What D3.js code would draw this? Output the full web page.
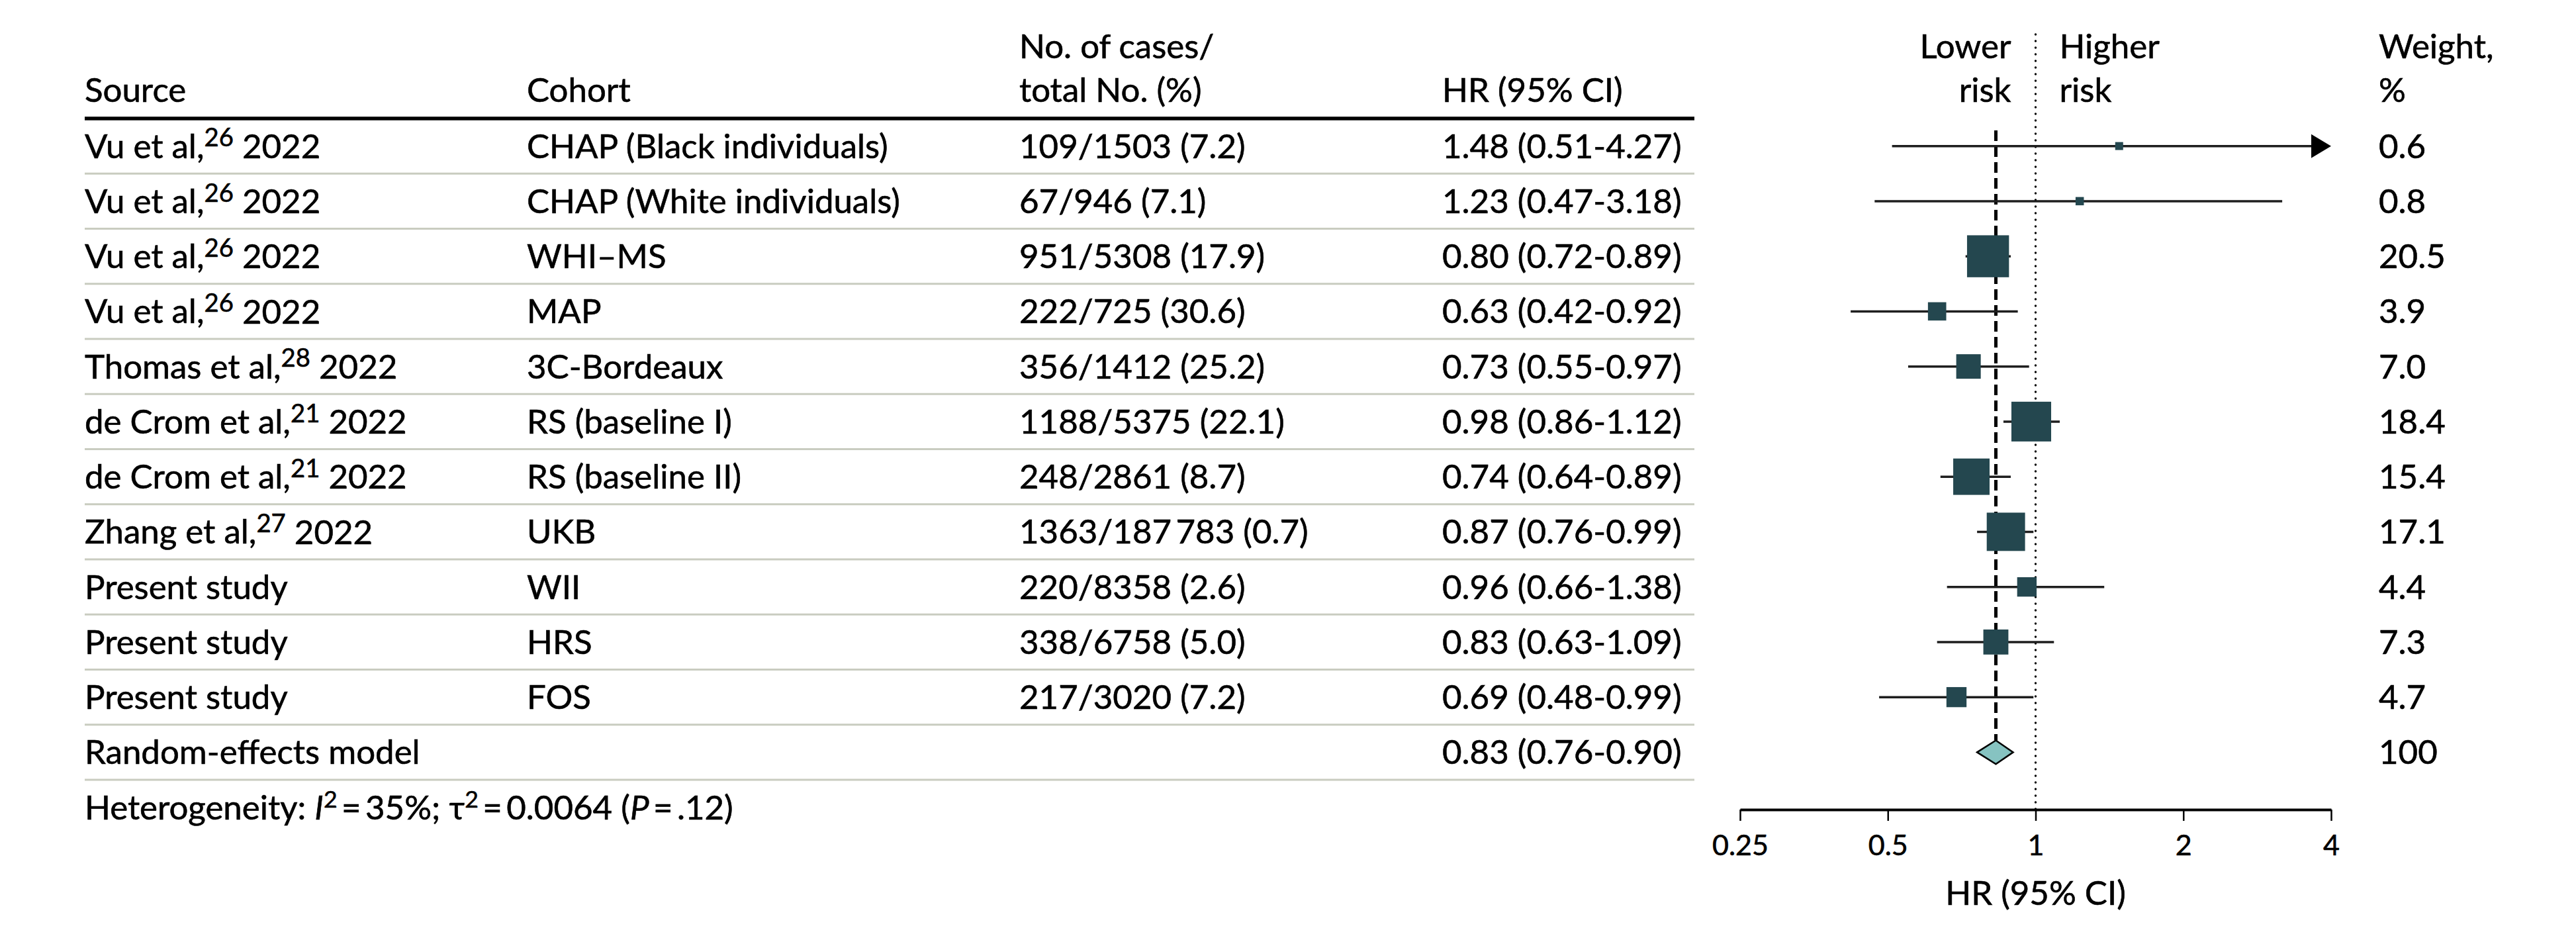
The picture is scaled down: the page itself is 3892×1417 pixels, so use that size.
<!DOCTYPE html>
<html>
<head>
  <script type="text/javascript" src="https://d3js.org/d3.v7.min.js"></script>
</head>
<body>
<style type="text/css">
  html,
  body {
    margin: 0px;
    overflow: hidden;
    background: #ffffff;
  }

  text {
    font-family: Lato, "Open Sans", sans-serif;
    fill: #000000;
    stroke: #000000;
    stroke-width: 0.6px;
  }
</style>

<script>
"use strict";

// Study rows
const AUTHORS = ["Vu et al,", "Vu et al,", "Vu et al,", "Vu et al,", "Thomas et al,", "de Crom et al,", "de Crom et al,", "Zhang et al,", "Present study", "Present study", "Present study"];
const REFS = ["26", "26", "26", "26", "28", "21", "21", "27", "", "", ""];
const YEARS = ["2022", "2022", "2022", "2022", "2022", "2022", "2022", "2022", "", "", ""];
const COHORTS = ["CHAP (Black individuals)", "CHAP (White individuals)", "WHI\u2013MS", "MAP", "3C-Bordeaux", "RS (baseline I)", "RS (baseline II)", "UKB", "WII", "HRS", "FOS"];
const CASES = ["109/1503 (7.2)", "67/946 (7.1)", "951/5308 (17.9)", "222/725 (30.6)", "356/1412 (25.2)", "1188/5375 (22.1)", "248/2861 (8.7)", "1363/187\u2009783 (0.7)", "220/8358 (2.6)", "338/6758 (5.0)", "217/3020 (7.2)"];
const HR = [1.48, 1.23, 0.80, 0.63, 0.73, 0.98, 0.74, 0.87, 0.96, 0.83, 0.69];
const LOWER = [0.51, 0.47, 0.72, 0.42, 0.55, 0.86, 0.64, 0.76, 0.66, 0.63, 0.48];
const UPPER = [4.27, 3.18, 0.89, 0.92, 0.97, 1.12, 0.89, 0.99, 1.38, 1.09, 0.99];
const WEIGHTS = ["0.6", "0.8", "20.5", "3.9", "7.0", "18.4", "15.4", "17.1", "4.4", "7.3", "4.7"];

// Pooled estimate
const POOLED_LABEL = "Random-effects model";
const POOLED = [0.83, 0.76, 0.90];
const POOLED_WEIGHT = "100";

// Axis ticks
const X_TICKS = [0.25, 0.5, 1, 2, 4];

document.addEventListener("DOMContentLoaded", function() {
  /******************************************************* Declare variables *******************************************************/

  const WIDTH = 3892;
  const HEIGHT = 1417;
  const FONT_SIZE = 51;
  const TICK_FONT_SIZE = 43;

  const TABLE_LEFT = 128; // left edge of table rules
  const TABLE_RIGHT = 2560; // right edge of table rules
  const COL_X = [128, 796, 1540, 2179]; // source, cohort, cases, HR columns
  const WEIGHT_X = 3594;

  const HEADER_TOP = 179; // thick rule under the header
  const ROW_HEIGHT = 83.25;
  const HEADER_LINE1 = 88; // baselines of the two header lines
  const HEADER_LINE2 = 154;

  const AXIS_Y = 1223;
  const BOX_COLOR = "#24474f";
  const DIAMOND_COLOR = "#86c3c1";

  const N_ROWS = HR.length + 1;

  // Row scale: centre of each row
  const Y_SCALE = d3
    .scaleBand()
    .domain(d3.range(N_ROWS))
    .range([HEADER_TOP, HEADER_TOP + ROW_HEIGHT * N_ROWS]);

  const rowMid = function(i) {
    return Y_SCALE(i) + Y_SCALE.bandwidth() / 2;
  };

  // HR scale (log base 2)
  const X_SCALE = d3
    .scaleLog()
    .base(2)
    .domain([0.25, 4])
    .range([2629, 3522]);

  // Box size from weight (area proportional)
  const SIZE_SCALE = d3
    .scaleSqrt()
    .domain([0, 1])
    .range([0, 14]);

  const FMT = d3.format(".2f");

  const ROWS = HR.map(function(d, i) {
    return {
      author: AUTHORS[i],
      ref: REFS[i],
      year: YEARS[i],
      cohort: COHORTS[i],
      cases: CASES[i],
      hr: d,
      lo: LOWER[i],
      hi: UPPER[i],
      weight: WEIGHTS[i]
    };
  });

  /**************************************************** Create Static Elements ****************************************************/

  const SVG = d3
    .select("body")
    .append("svg")
    .attr("width", WIDTH)
    .attr("height", HEIGHT)
    .style("font-size", FONT_SIZE + "px");

  SVG.append("rect")
    .attr("width", WIDTH)
    .attr("height", HEIGHT)
    .attr("fill", "#ffffff");

  // Header text
  const HEADERS = [
    { x: COL_X[0], y: HEADER_LINE2, t: "Source", a: "start" },
    { x: COL_X[1], y: HEADER_LINE2, t: "Cohort", a: "start" },
    { x: COL_X[2], y: HEADER_LINE1, t: "No. of cases/", a: "start" },
    { x: COL_X[2], y: HEADER_LINE2, t: "total No. (%)", a: "start" },
    { x: COL_X[3], y: HEADER_LINE2, t: "HR (95% CI)", a: "start" },
    { x: X_SCALE(1) - 37, y: HEADER_LINE1, t: "Lower", a: "end" },
    { x: X_SCALE(1) - 37, y: HEADER_LINE2, t: "risk", a: "end" },
    { x: X_SCALE(1) + 36, y: HEADER_LINE1, t: "Higher", a: "start" },
    { x: X_SCALE(1) + 36, y: HEADER_LINE2, t: "risk", a: "start" },
    { x: WEIGHT_X, y: HEADER_LINE1, t: "Weight,", a: "start" },
    { x: WEIGHT_X, y: HEADER_LINE2, t: "%", a: "start" }
  ];

  SVG.selectAll(".header")
    .data(HEADERS)
    .enter()
    .append("text")
    .classed("header", true)
    .attr("x", function(d) { return d.x; })
    .attr("y", function(d) { return d.y; })
    .attr("text-anchor", function(d) { return d.a; })
    .text(function(d) { return d.t; });

  // Row rules
  SVG.selectAll(".row-rule")
    .data(d3.range(N_ROWS))
    .enter()
    .append("line")
    .classed("row-rule", true)
    .attr("x1", TABLE_LEFT)
    .attr("x2", TABLE_RIGHT)
    .attr("y1", function(d) { return Y_SCALE(d) + ROW_HEIGHT; })
    .attr("y2", function(d) { return Y_SCALE(d) + ROW_HEIGHT; })
    .attr("stroke", "#c9ccc0")
    .attr("stroke-width", 3);

  SVG.append("line")
    .attr("x1", TABLE_LEFT)
    .attr("x2", TABLE_RIGHT)
    .attr("y1", HEADER_TOP)
    .attr("y2", HEADER_TOP)
    .attr("stroke", "#000000")
    .attr("stroke-width", 5.5);

  /************************************************ Create Data Dependent Elements ************************************************/

  const G_ROWS = SVG.selectAll(".row")
    .data(ROWS)
    .enter()
    .append("g")
    .classed("row", true)
    .attr("transform", function(d, i) {
      return "translate(0," + (rowMid(i) + 18) + ")";
    });

  // Source with superscript reference
  const SRC = G_ROWS.append("text").attr("x", COL_X[0]);
  SRC.append("tspan").text(function(d) { return d.author; });
  SRC.filter(function(d) { return d.ref !== ""; })
    .append("tspan")
    .attr("font-size", "0.75em")
    .attr("dy", "-0.45em")
    .text(function(d) { return d.ref; });
  SRC.filter(function(d) { return d.ref !== ""; })
    .append("tspan")
    .attr("dy", "0.34em")
    .text(function(d) { return " " + d.year; });

  G_ROWS.append("text")
    .attr("x", COL_X[1])
    .text(function(d) { return d.cohort; });

  G_ROWS.append("text")
    .attr("x", COL_X[2])
    .text(function(d) { return d.cases; });

  G_ROWS.append("text")
    .attr("x", COL_X[3])
    .text(function(d) { return FMT(d.hr) + " (" + FMT(d.lo) + "-" + FMT(d.hi) + ")"; });

  G_ROWS.append("text")
    .attr("x", WEIGHT_X)
    .text(function(d) { return d.weight; });

  // Pooled row text
  const POOLED_Y = rowMid(N_ROWS - 1);
  SVG.append("text")
    .attr("x", COL_X[0])
    .attr("y", POOLED_Y + 18)
    .text(POOLED_LABEL);
  SVG.append("text")
    .attr("x", COL_X[3])
    .attr("y", POOLED_Y + 18)
    .text(FMT(POOLED[0]) + " (" + FMT(POOLED[1]) + "-" + FMT(POOLED[2]) + ")");
  SVG.append("text")
    .attr("x", WEIGHT_X)
    .attr("y", POOLED_Y + 18)
    .text(POOLED_WEIGHT);

  // Heterogeneity note
  const HET = SVG.append("text")
    .attr("x", COL_X[0])
    .attr("y", 1238);
  HET.append("tspan").text("Heterogeneity: ");
  HET.append("tspan").attr("font-style", "italic").text("I");
  HET.append("tspan").attr("font-size", "0.7em").attr("dy", "-0.5em").text("2");
  HET.append("tspan").attr("dy", "0.35em").text("\u2009=\u200935%; \u03c4");
  HET.append("tspan").attr("font-size", "0.7em").attr("dy", "-0.5em").text("2");
  HET.append("tspan").attr("dy", "0.35em").text("\u2009=\u20090.0064 (");
  HET.append("tspan").attr("font-style", "italic").text("P");
  HET.append("tspan").text("\u2009=\u2009.12)");

  // Reference lines
  SVG.append("line")
    .attr("x1", X_SCALE(1))
    .attr("x2", X_SCALE(1))
    .attr("y1", 52)
    .attr("y2", AXIS_Y)
    .attr("stroke", "#000000")
    .attr("stroke-width", 3.4)
    .attr("stroke-linecap", "round")
    .attr("stroke-dasharray", "0 10");

  SVG.append("line")
    .attr("x1", X_SCALE(POOLED[0]))
    .attr("x2", X_SCALE(POOLED[0]))
    .attr("y1", 197)
    .attr("y2", POOLED_Y - 18)
    .attr("stroke", "#000000")
    .attr("stroke-width", 5)
    .attr("stroke-dasharray", "16 8");

  // Confidence intervals (clipped to axis range)
  const G_CI = SVG.append("g").classed("g-ci", true);

  G_CI.selectAll(".ci")
    .data(ROWS)
    .enter()
    .append("line")
    .classed("ci", true)
    .attr("x1", function(d) { return X_SCALE(Math.max(d.lo, 0.25)); })
    .attr("x2", function(d) { return X_SCALE(Math.min(d.hi, 4)) - (d.hi > 4 ? 20 : 0); })
    .attr("y1", function(d, i) { return rowMid(i); })
    .attr("y2", function(d, i) { return rowMid(i); })
    .attr("stroke", "#1e1e1e")
    .attr("stroke-width", 3.5);

  // Arrow heads for CIs exceeding the axis
  G_CI.selectAll(".arrow")
    .data(ROWS.map(function(d, i) { return { d: d, i: i }; }).filter(function(o) { return o.d.hi > 4; }))
    .enter()
    .append("path")
    .classed("arrow", true)
    .attr("d", function(o) {
      const x = X_SCALE(4);
      const y = rowMid(o.i);
      return "M" + x + "," + y + "L" + (x - 30) + "," + (y - 18) + "L" + (x - 30) + "," + (y + 18) + "Z";
    })
    .attr("fill", "#000000");

  // Weighted boxes
  SVG.selectAll(".box")
    .data(ROWS)
    .enter()
    .append("rect")
    .classed("box", true)
    .attr("x", function(d) { return X_SCALE(d.hr) - Math.max(SIZE_SCALE(+d.weight), 12) / 2; })
    .attr("y", function(d, i) { return rowMid(i) - Math.max(SIZE_SCALE(+d.weight), 12) / 2; })
    .attr("width", function(d) { return Math.max(SIZE_SCALE(+d.weight), 12); })
    .attr("height", function(d) { return Math.max(SIZE_SCALE(+d.weight), 12); })
    .attr("fill", BOX_COLOR);

  // Pooled diamond
  SVG.append("path")
    .attr("d",
      "M" + X_SCALE(POOLED[1]) + "," + POOLED_Y +
      "L" + X_SCALE(POOLED[0]) + "," + (POOLED_Y - 18) +
      "L" + X_SCALE(POOLED[2]) + "," + POOLED_Y +
      "L" + X_SCALE(POOLED[0]) + "," + (POOLED_Y + 18) + "Z")
    .attr("fill", DIAMOND_COLOR)
    .attr("stroke", "#000000")
    .attr("stroke-width", 2.5);

  // X axis
  const G_AXIS = SVG.append("g")
    .classed("x-axis", true)
    .attr("transform", "translate(0," + AXIS_Y + ")")
    .call(
      d3.axisBottom(X_SCALE)
        .tickValues(X_TICKS)
        .tickFormat(function(d) { return String(d); })
        .tickSize(17)
        .tickSizeOuter(0)
        .tickPadding(21)
    );

  G_AXIS.select(".domain").attr("stroke", "#000000").attr("stroke-width", 4);
  G_AXIS.selectAll(".tick line").attr("stroke", "#000000").attr("stroke-width", 2.5);
  G_AXIS.selectAll(".tick text")
    .attr("font-family", "Lato, 'Open Sans', sans-serif")
    .attr("font-size", TICK_FONT_SIZE)
    .attr("fill", "#000000");

  SVG.append("text")
    .attr("x", X_SCALE(1))
    .attr("y", 1367)
    .attr("text-anchor", "middle")
    .text("HR (95% CI)");
});
</script>
</body>
</html>
